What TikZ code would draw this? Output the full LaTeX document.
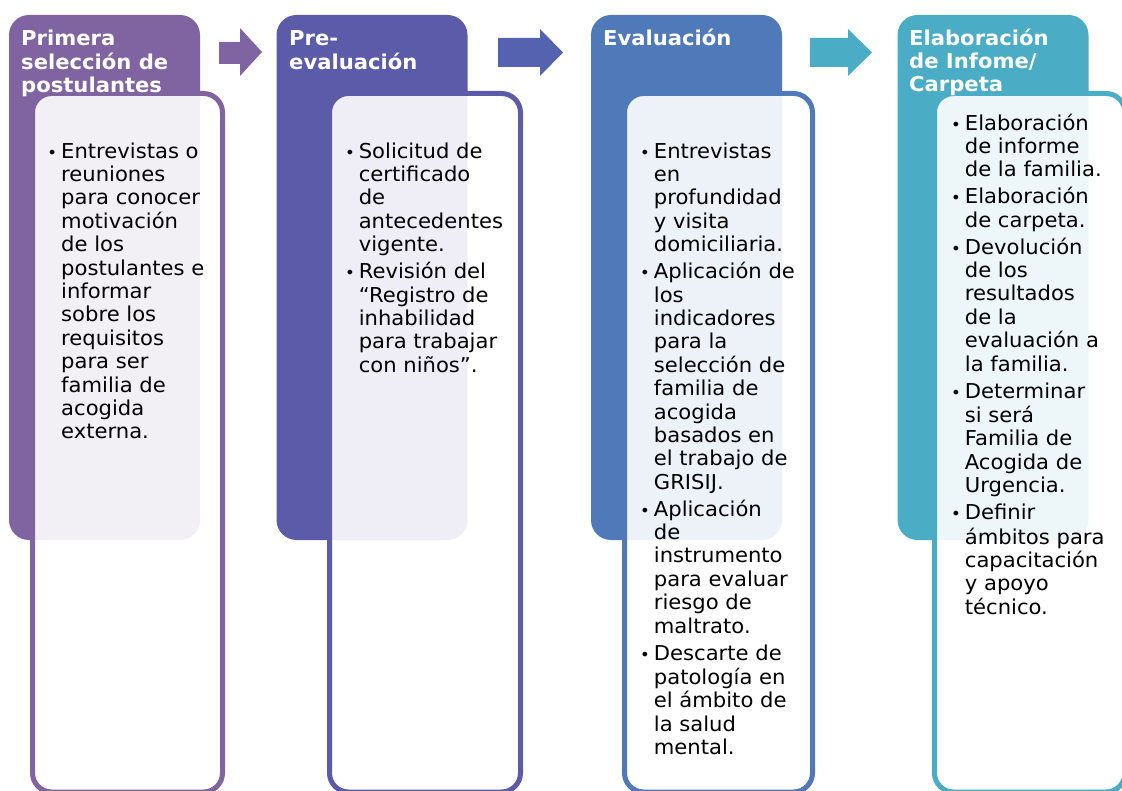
\documentclass[tikz,border=0pt]{standalone}
\usepackage{fontspec}
\setmainfont{DejaVu Sans}[FakeStretch=1.03]
\definecolor{cA}{HTML}{8064A2}
\definecolor{cB}{HTML}{5C5BAA}
\definecolor{cC}{HTML}{4F79B9}
\definecolor{cD}{HTML}{4BACC6}
\definecolor{arB}{HTML}{5562B0}
\newcommand{\bul}{\strut\llap{{\fontsize{16}{16}\selectfont •}\hspace{4pt}}}
\tikzset{
  hdrbox/.style={rounded corners=20pt, inner sep=0pt, minimum width=191pt, minimum height=525pt, draw=none},
  innerbox/.style={rounded corners=19pt, inner sep=0pt, line width=5pt, fill=white, fill opacity=0.9, draw opacity=1},
  hdrtext/.style={anchor=north west, inner sep=0pt, align=left, text=white, font=\fontsize{20.5}{23}\selectfont\bfseries},
  bodytext/.style={anchor=north west, inner sep=0pt, align=left, text=black, font=\fontsize{20.5}{23.4}\selectfont}
}
\begin{document}
\begin{tikzpicture}[x=1pt,y=-1pt]
\useasboundingbox (0,0) rectangle (1122,791);
% column 1
\node[hdrbox, fill=cA] (h1) at (104.5,277.5) {};
\node[innerbox, draw=cA, minimum width=190pt, minimum height=698.5pt] (b1) at (127.5,442.75) {};
% column 2
\node[hdrbox, fill=cB] (h2) at (372,277.5) {};
\node[innerbox, draw=cB, minimum width=191pt, minimum height=698.5pt] (b2) at (425,442.75) {};
% column 3
\node[hdrbox, fill=cC] (h3) at (686.5,277.5) {};
\node[innerbox, draw=cC, minimum width=188pt, minimum height=698.5pt] (b3) at (718.5,442.75) {};
% column 4
\node[hdrbox, fill=cD] (h4) at (993,277.5) {};
\node[innerbox, draw=cD, minimum width=190.5pt, minimum height=698.5pt] (b4) at (1029.75,442.75) {};
% arrows
\fill[cA] (219,42) -- (240,42) -- (240,28) -- (262,52) -- (240,76) -- (240,64) -- (219,64) -- cycle;
\fill[arB] (498,38) -- (540,38) -- (540,29) -- (563,52.5) -- (540,76) -- (540,67) -- (498,67) -- cycle;
\fill[cD] (810,38) -- (848,38) -- (848,29) -- (872,52.5) -- (848,76) -- (848,67) -- (810,67) -- cycle;
% header texts
\node[hdrtext] (ht1) at (21,28.9) {\strut Primera\\selección de\\postulantes};
\node[hdrtext] (ht2) at (289,28.9) {\strut Pre-\\evaluación};
\node[hdrtext] (ht3) at (603,28.9) {\strut Evaluación};
\node[hdrtext] (ht4) at (909,28.9) {\strut Elaboración\\de Infome/\\Carpeta};
% body texts
\node[bodytext] (t1) at (61,141.6) {\bul Entrevistas o\\reuniones\\para conocer\\motivación\\de los\\postulantes e\\informar\\sobre los\\requisitos\\para ser\\familia de\\acogida\\externa.};
\node[bodytext] (t2) at (358.6,141.6) {\bul Solicitud de\\certificado\\de\\antecedentes\\vigente.\\[3.5pt]\bul Revisión del\\“Registro de\\inhabilidad\\para trabajar\\con niños”.};
\node[bodytext] (t3) at (653.7,141.6) {\bul Entrevistas\\en\\profundidad\\y visita\\domiciliaria.\\[3.5pt]\bul Aplicación de\\los\\indicadores\\para la\\selección de\\familia de\\acogida\\basados en\\el trabajo de\\GRISIJ.\\[3.5pt]\bul Aplicación\\de\\instrumento\\para evaluar\\riesgo de\\maltrato.\\[3.5pt]\bul Descarte de\\patología en\\el ámbito de\\la salud\\mental.};
\node[bodytext] (t4) at (964.7,113.6) {\bul Elaboración\\de informe\\de la familia.\\[3.5pt]\bul Elaboración\\de carpeta.\\[3.5pt]\bul Devolución\\de los\\resultados\\de la\\evaluación a\\la familia.\\[3.5pt]\bul Determinar\\si será\\Familia de\\Acogida de\\Urgencia.\\[3.5pt]\bul Definir\\ámbitos para\\capacitación\\y apoyo\\técnico.};
\end{tikzpicture}
\end{document}
